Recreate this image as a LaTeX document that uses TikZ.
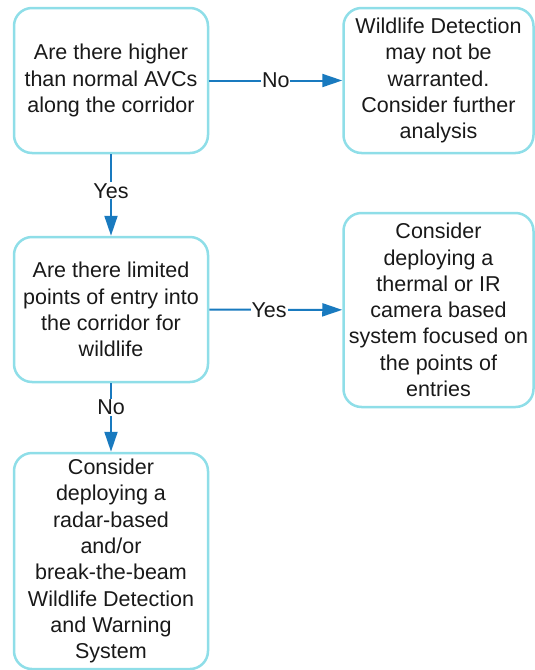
\documentclass[tikz,border=0pt]{standalone}
\usepackage{fontspec}
\setmainfont{Liberation Sans}
\usepackage{tikz}
\usetikzlibrary{arrows.meta}
\usetikzlibrary{positioning}
\definecolor{mcyan}{rgb}{0.56, 0.87, 0.91}
\definecolor{mblue}{rgb}{0.1, 0.48, 0.75}
\tikzset{box/.style = {draw = mcyan, line width = 2.5, rounded corners = 18, align = center,
    inner sep = 0, font = \fontsize{21.5}{26.3}\selectfont, text = black!90}}
\tikzset{flow/.style = {draw = mblue, line width = 2, -{Triangle[length = 20, width = 13]}}}
\tikzset{lbl/.style = {fill = white, inner sep = 1, font = \fontsize{21.5}{23}\selectfont, text = black!90}}

\begin{document}
\begin{tikzpicture}[x=1pt, y=-1pt]
    \useasboundingbox (0, 0) rectangle (535, 670);
    \node [box, minimum width = 194, minimum height = 145] (avc) at (111, 80.5)
        {Are there higher\\ than normal AVCs\\ along the corridor};
    \node [box, minimum width = 190, minimum height = 145] (nowarrant) at (438.5, 80.5)
        {Wildlife Detection\\ may not be\\ warranted.\\ Consider further\\ analysis};
    \node [box, minimum width = 194, minimum height = 145] (entry) at (111, 309.5)
        {Are there limited\\ points of entry into\\ the corridor for\\ wildlife};
    \node [box, minimum width = 190, minimum height = 194] (thermal) at (438.5, 310)
        {Consider\\ deploying a\\ thermal or IR\\ camera based\\ system focused on\\ the points of\\ entries};
    \node [box, minimum width = 194, minimum height = 216] (radar) at (111, 561)
        {Consider\\ deploying a\\ radar-based\\ and/or\\ break-the-beam\\ Wildlife Detection\\ and Warning\\ System};
    % connectors
    \draw [flow] (avc) -- node [lbl] {No} (nowarrant);
    \draw [flow] (avc) -- node [lbl, pos = 0.45] {Yes} (entry);
    \draw [flow] (entry) -- node [lbl, pos = 0.45] {Yes} (thermal);
    \draw [flow] (entry) -- node [lbl, pos = 0.35] {No} (radar);
\end{tikzpicture}
\end{document}
